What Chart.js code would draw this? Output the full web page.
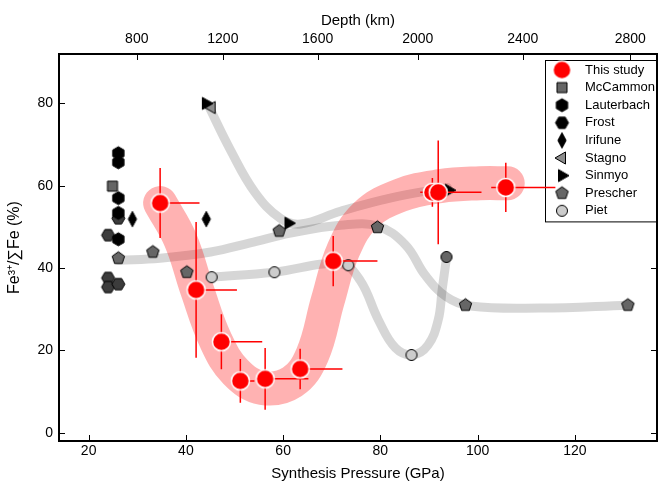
<!DOCTYPE html>
<html>
<head>
<meta charset="utf-8">
<script src="https://cdn.jsdelivr.net/npm/chart.js@4.4.1/dist/chart.umd.min.js"></script>
<style>
  html, body { margin: 0; padding: 0; background: #fff; }
</style>
</head>
<body>
<canvas id="chart" width="658" height="483"></canvas>
<script>
// axis ranges + ticks
const xMin = 13.9, xMax = 136.9;
const yMin = -2, yMax = 92;
const pressureTicks = [20, 40, 60, 80, 100, 120];
const feTicks = [0, 20, 40, 60, 80];
const depthLabels = ['800', '1200', '1600', '2000', '2400', '2800'];
const depthPressure = [29.9, 47.6, 67.1, 87.7, 109.3, 131.4];

// this study
const studyP = [34.7, 42.1, 47.3, 51.2, 56.3, 63.5, 70.3, 90.7, 91.9, 105.8];
const studyFe = [55.8, 34.7, 22.1, 12.6, 13.1, 15.5, 41.7, 58.4, 58.4, 59.6];
const studyFeErr = [8.5, 16.5, 6.7, 5.3, 7.5, 4.9, 6.1, 3.5, 12.6, 6.0];
const studyPErrLo = [0, 0, 0, 0, 0, 0, 0, 2.5, 0, 3.0];
const studyPErrHi = [8.1, 8.4, 8.4, 2.9, 8.9, 8.7, 9.1, 2.0, 8.9, 10.2];

// literature
const mccP = [24.9], mccFe = [59.9];
const lautP = [26.1, 26.1, 26.1, 26.1, 26.1], lautFe = [67.9, 65.7, 57.0, 53.4, 47.0];
const frostP = [26.1, 24.0, 24.0, 24.0, 26.1], frostFe = [52.1, 48.0, 37.6, 35.4, 36.1];
const irifuneP = [29.0, 44.2], irifuneFe = [51.9, 51.9];
const stagnoP = [45.3], stagnoFe = [79.0];
const sinmyoP = [44.1, 61.1, 94.1], sinmyoFe = [80.0, 50.9, 58.9];
const prescherP = [26.1, 33.2, 40.2, 59.2, 79.4, 97.5, 130.9];
const prescherFe = [42.4, 43.9, 39.0, 49.0, 49.9, 31.0, 31.0];
const pietP = [45.3, 58.2, 73.4, 86.4, 93.6], pietFe = [37.8, 39.0, 40.7, 18.9, 42.7];

// guide-for-the-eye trends
const bandP = [34.7, 38.9, 42.3, 46.1, 50.2, 55.7, 61.9, 66.0, 69.2, 72.4, 76.9, 84.1, 92.3, 100.5, 106.2];
const bandFe = [55.8, 46.8, 34.7, 22.5, 14.8, 10.9, 12.4, 18.9, 32.2, 44.4, 52.8, 57.7, 59.9, 60.6, 60.6];
const trendAP = [44.5, 49.2, 54.2, 59.4, 63.6, 71.8, 82.0, 93.8];
const trendAFe = [79.8, 68.6, 58.4, 52.1, 50.7, 53.8, 57.0, 59.6];
const trendBP = [26.1, 34.7, 45.1, 53.2, 61.5, 71.8, 79.4, 85.2, 89.2, 93.6, 98.5, 112.9, 130.9];
const trendBFe = [41.9, 42.4, 43.9, 46.1, 48.5, 50.4, 50.2, 45.6, 38.3, 33.0, 30.8, 30.3, 31.0];
const trendCP = [45.1, 58.2, 71.8, 75.8, 79.6, 83.1, 86.6, 89.8, 91.9, 92.7, 93.6];
const trendCFe = [37.8, 39.0, 41.0, 37.1, 27.4, 20.6, 18.9, 21.3, 27.4, 34.7, 42.4];

const pts = (xs, ys) => xs.map((x, i) => ({ x: x, y: ys[i] }));

// little canvases for the marker shapes chart.js doesn't have
function marker(shape, r, fill, stroke, lw) {
  const s = Math.ceil(2 * r * 1.4 + 2 * lw + 2);
  const c = document.createElement('canvas');
  c.width = s; c.height = s;
  const g = c.getContext('2d');
  const cx = s / 2, cy = s / 2;
  g.beginPath();
  if (shape === 'circle') {
    g.arc(cx, cy, r, 0, Math.PI * 2);
  } else if (shape === 'square') {
    g.rect(cx - r, cy - r, 2 * r, 2 * r);
  } else if (shape === 'diamond') {
    g.moveTo(cx, cy - r * 1.4); g.lineTo(cx + r * 0.75, cy);
    g.lineTo(cx, cy + r * 1.4); g.lineTo(cx - r * 0.75, cy);
    g.closePath();
  } else {
    const def = { hex: [6, -90], hexflat: [6, 0], pent: [5, -90], triR: [3, 0], triL: [3, 180] }[shape];
    for (let k = 0; k < def[0]; k++) {
      const a = (def[1] + k * 360 / def[0]) * Math.PI / 180;
      const px = cx + r * Math.cos(a), py = cy + r * Math.sin(a);
      if (k === 0) g.moveTo(px, py); else g.lineTo(px, py);
    }
    g.closePath();
  }
  g.fillStyle = fill;
  g.fill();
  if (lw > 0) { g.lineWidth = lw; g.strokeStyle = stroke; g.lineJoin = 'round'; g.stroke(); }
  return c;
}

const mStudy = marker('circle', 9, '#ff0000', '#ffffff', 1.5);
const mMcc = marker('square', 5, '#666666', '#000', 1);
const mLaut = marker('hex', 6.5, '#000000', '#000', 1);
const mFrost = marker('hexflat', 6.5, '#3c3c3c', '#000', 1);
const mFrostLeg = marker('hexflat', 6.5, '#000000', '#000', 1);
const mIrifune = marker('diamond', 5.5, '#000000', '#000', 1);
const mStagno = marker('triL', 7, '#8c8c8c', '#000', 1);
const mSinmyo = marker('triR', 7, '#000000', '#000', 1);
const mPrescher = marker('pent', 6.5, '#666666', '#000', 1);
const mPiet = marker('circle', 5.5, '#cccccc', '#000', 1);
const mPietDark = marker('circle', 5.5, '#666666', '#000', 1);

const legendItems = [
  ['This study', mStudy], ['McCammon', mMcc], ['Lauterbach', mLaut], ['Frost', mFrostLeg],
  ['Irifune', mIrifune], ['Stagno', mStagno], ['Sinmyo', mSinmyo], ['Prescher', mPrescher], ['Piet', mPiet]
];

const FONT = '"Liberation Sans", Arial, Helvetica, sans-serif';
Chart.defaults.font.family = FONT;
Chart.defaults.color = '#000';

function scatterSet(label, xs, ys, style) {
  return { label: label, data: pts(xs, ys), pointStyle: style, pointRadius: 7, showLine: false };
}
function trendSet(label, xs, ys, color, width) {
  return {
    label: label, data: pts(xs, ys), showLine: true, pointRadius: 0, borderColor: color,
    borderWidth: width, tension: 0.4, borderCapStyle: 'round', borderJoinStyle: 'round', fill: false
  };
}

// frame, inward ticks, legend box
const framePlugin = {
  id: 'frame',
  beforeDatasetsDraw(chart) {
    const { ctx, chartArea: a, scales } = chart;
    ctx.save();
    ctx.strokeStyle = '#000';
    ctx.lineWidth = 1;
    ctx.beginPath();
    pressureTicks.forEach(v => {
      const px = Math.round(scales.x.getPixelForValue(v)) + 0.5;
      ctx.moveTo(px, a.bottom); ctx.lineTo(px, a.bottom - 6);
    });
    depthPressure.forEach(v => {
      const px = Math.round(scales.x2.getPixelForValue(v)) + 0.5;
      ctx.moveTo(px, a.top); ctx.lineTo(px, a.top + 6);
    });
    feTicks.forEach(v => {
      const py = Math.round(scales.y.getPixelForValue(v)) + 0.5;
      ctx.moveTo(a.left, py); ctx.lineTo(a.left + 6, py);
      ctx.moveTo(a.right, py); ctx.lineTo(a.right - 6, py);
    });
    ctx.stroke();
    ctx.lineWidth = 2;
    ctx.strokeRect(a.left, a.top, a.right - a.left, a.bottom - a.top);

    // legend
    const bx = 545, by = a.top + 6, bw = a.right - 1 - bx, rowH = 17.6;
    const bh = rowH * legendItems.length + 3;
    ctx.fillStyle = '#fff';
    ctx.fillRect(bx, by, bw, bh);
    ctx.lineWidth = 1;
    ctx.strokeRect(bx + 0.5, by + 0.5, bw, bh);
    ctx.font = '13px ' + FONT;
    ctx.textBaseline = 'middle';
    ctx.fillStyle = '#000';
    legendItems.forEach((it, i) => {
      const cy = by + 10 + i * rowH;
      const img = it[1];
      ctx.drawImage(img, 562 - img.width / 2, cy - img.height / 2);
      ctx.fillText(it[0], 585, cy);
    });
    ctx.restore();
  },
  beforeDatasetDraw(chart, args) {
    if (args.index !== 0) return;
    const { ctx, scales } = chart;
    ctx.save();
    ctx.strokeStyle = '#ff0000';
    ctx.lineWidth = 1.5;
    ctx.beginPath();
    studyP.forEach((p, i) => {
      const px = scales.x.getPixelForValue(p), py = scales.y.getPixelForValue(studyFe[i]);
      ctx.moveTo(px, scales.y.getPixelForValue(studyFe[i] + studyFeErr[i]));
      ctx.lineTo(px, scales.y.getPixelForValue(studyFe[i] - studyFeErr[i]));
      ctx.moveTo(scales.x.getPixelForValue(p - studyPErrLo[i]), py);
      ctx.lineTo(scales.x.getPixelForValue(p + studyPErrHi[i]), py);
    });
    ctx.stroke();
    ctx.restore();
  }
};

const tickFont = { size: 14 };
const titleFont = { size: 15 };
const noGrid = { display: false, drawTicks: false };

new Chart(document.getElementById('chart').getContext('2d'), {
  type: 'scatter',
  data: {
    datasets: [
      { label: 'This study', data: pts(studyP, studyFe), pointStyle: mStudy, pointRadius: 9 },
      scatterSet('Sinmyo', sinmyoP, sinmyoFe, mSinmyo),
      scatterSet('Stagno', stagnoP, stagnoFe, mStagno),
      scatterSet('McCammon', mccP, mccFe, mMcc),
      scatterSet('Lauterbach', lautP, lautFe, mLaut),
      scatterSet('Frost', frostP, frostFe, mFrost),
      scatterSet('Irifune', irifuneP, irifuneFe, mIrifune),
      scatterSet('Prescher', prescherP, prescherFe, mPrescher),
      { label: 'Piet', data: pts(pietP, pietFe), pointStyle: [mPiet, mPiet, mPiet, mPiet, mPietDark], pointRadius: 6 },
      trendSet('band', bandP, bandFe, 'rgba(255,0,0,0.3)', 34),
      trendSet('trendA', trendAP, trendAFe, 'rgba(0,0,0,0.16)', 9),
      trendSet('trendB', trendBP, trendBFe, 'rgba(0,0,0,0.16)', 9),
      trendSet('trendC', trendCP, trendCFe, 'rgba(0,0,0,0.16)', 9)
    ]
  },
  options: {
    responsive: false,
    animation: false,
    events: [],
    layout: { autoPadding: false, padding: { left: 0, right: 1, top: 0, bottom: 0 } },
    plugins: { legend: { display: false }, tooltip: { enabled: false } },
    scales: {
      x: {
        type: 'linear', position: 'bottom', min: xMin, max: xMax,
        grid: noGrid, border: { display: false },
        afterBuildTicks: s => { s.ticks = pressureTicks.map(v => ({ value: v })); },
        ticks: { font: tickFont, padding: 2, maxRotation: 0, autoSkip: false },
        title: { display: true, text: 'Synthesis Pressure (GPa)', font: titleFont, padding: { top: 2, bottom: 0 } },
        afterFit: s => { s.height = 42; s.paddingLeft = 0; s.paddingRight = 0; }
      },
      x2: {
        type: 'linear', position: 'top', min: xMin, max: xMax,
        grid: noGrid, border: { display: false },
        afterBuildTicks: s => { s.ticks = depthPressure.map(v => ({ value: v })); },
        ticks: { font: tickFont, padding: 6, maxRotation: 0, autoSkip: false, callback: (v, i) => depthLabels[i] },
        title: { display: true, text: 'Depth (km)', font: titleFont, padding: { top: 12, bottom: 2 } },
        afterFit: s => { s.height = 54; s.paddingLeft = 0; s.paddingRight = 0; }
      },
      y: {
        type: 'linear', position: 'left', min: yMin, max: yMax,
        grid: noGrid, border: { display: false },
        afterBuildTicks: s => { s.ticks = feTicks.map(v => ({ value: v })); },
        ticks: { font: tickFont, padding: 6 },
        title: { display: true, text: 'Fe³⁺/∑Fe (%)', font: { size: 16 }, padding: { top: 5, bottom: 4 } },
        afterFit: s => { s.width = 59; s.paddingTop = 0; s.paddingBottom = 0; }
      }
    }
  },
  plugins: [framePlugin]
});
</script>
</body>
</html>
